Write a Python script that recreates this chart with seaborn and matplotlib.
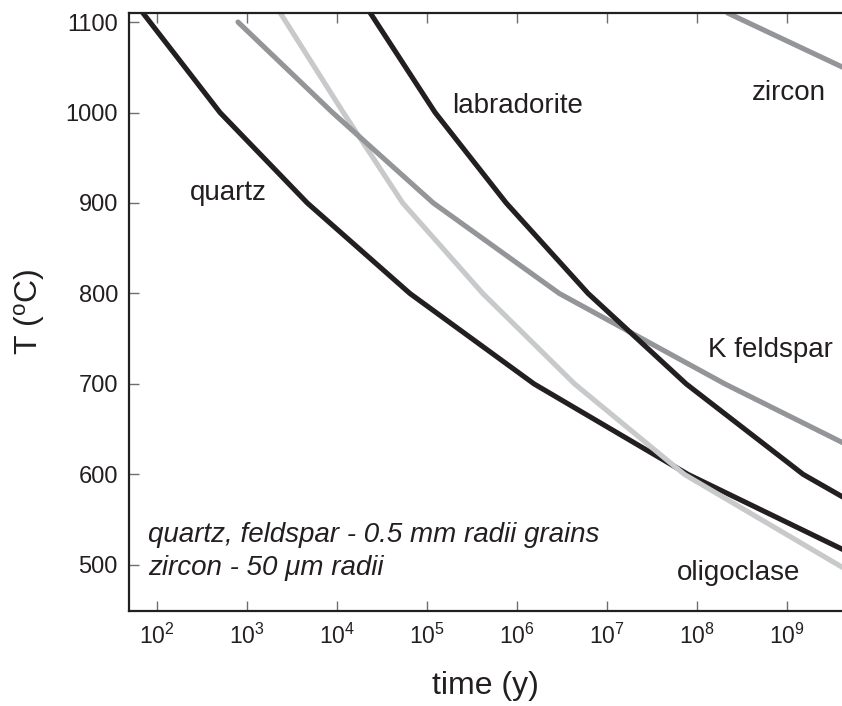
import numpy as np
import pandas as pd
import matplotlib
matplotlib.use("Agg")
import matplotlib.pyplot as plt
import matplotlib.ticker as mticker
import seaborn as sns

# ---- data (log10 time in years, temperature in C) ----
quartz_logt = [1.844, 2.70, 3.67, 4.81, 6.19, 7.90, 9.62]
quartz_T = [1110, 1000, 900, 800, 700, 600, 517]

oligoclase_logt = [3.37, 4.07, 4.73, 5.62, 6.64, 7.86, 9.62]
oligoclase_T = [1110, 1000, 900, 800, 700, 600, 497]

kfeldspar_logt = [2.90, 3.95, 5.07, 6.47, 8.31, 9.62]
kfeldspar_T = [1100, 1000, 900, 800, 700, 635]

labradorite_logt = [4.37, 5.09, 5.88, 6.79, 7.88, 9.18, 9.62]
labradorite_T = [1110, 1000, 900, 800, 700, 600, 575]

zircon_logt = [8.34, 9.62]
zircon_T = [1110, 1050]

minerals = ["quartz", "oligoclase", "K feldspar", "labradorite", "zircon"]
colors = {"quartz": "#231f20", "oligoclase": "#c8c9cb", "K feldspar": "#939598",
          "labradorite": "#231f20", "zircon": "#939598"}

xtick_exps = [2, 3, 4, 5, 6, 7, 8, 9]
yticks = [500, 600, 700, 800, 900, 1000, 1100]

series = {
    "quartz": (quartz_logt, quartz_T),
    "oligoclase": (oligoclase_logt, oligoclase_T),
    "K feldspar": (kfeldspar_logt, kfeldspar_T),
    "labradorite": (labradorite_logt, labradorite_T),
    "zircon": (zircon_logt, zircon_T),
}
rows = []
for m in minerals:
    lt, T = series[m]
    for a, b in zip(lt, T):
        rows.append({"mineral": m, "time": 10.0 ** a, "T": b})
df = pd.DataFrame(rows)

sns.set_style("white")
plt.rcParams["font.family"] = ["Liberation Sans", "DejaVu Sans"]
plt.rcParams["mathtext.fontset"] = "custom"
plt.rcParams["mathtext.rm"] = "Liberation Sans"
plt.rcParams["mathtext.it"] = "Liberation Sans:italic"
plt.rcParams["mathtext.bf"] = "Liberation Sans:bold"

W, H = 842, 706
fig = plt.figure(figsize=(W / 100, H / 100), dpi=100)
ax = fig.add_axes([129 / W, 1 - 611 / H, (W - 129) / W, (611 - 13) / H])

for m in minerals:
    sub = df[df["mineral"] == m]
    sns.lineplot(data=sub, x="time", y="T", ax=ax, color=colors[m], lw=3.7,
                 sort=False, estimator=None, legend=False,
                 solid_capstyle="round", solid_joinstyle="round")

ax.set_xscale("log")
ax.set_xlim(10 ** 1.689, 10 ** 9.611)
ax.set_ylim(449, 1110)
ax.xaxis.set_major_locator(mticker.FixedLocator([10.0 ** e for e in xtick_exps]))
ax.xaxis.set_minor_locator(mticker.NullLocator())
ax.xaxis.set_major_formatter(mticker.FuncFormatter(lambda v, p: r"$\mathdefault{10^{%d}}$" % round(np.log10(v))))
ax.set_yticks(yticks)

for s in ["left", "bottom", "top"]:
    ax.spines[s].set_linewidth(1.6)
    ax.spines[s].set_color("#231f20")
ax.spines["right"].set_visible(False)

ax.tick_params(axis="x", which="major", direction="in", length=7, width=1.0,
               color="#6d6e71", top=True, bottom=True, labelsize=16.5, pad=9,
               labelcolor="#231f20")
ax.tick_params(axis="y", which="major", direction="in", length=7, width=1.0,
               color="#6d6e71", left=True, right=False, labelsize=17, pad=8,
               labelcolor="#231f20")

ax.set_xlabel("time (y)", fontsize=23, color="#231f20")
ax.set_ylabel(r"T ($^{\mathrm{o}}$C)", fontsize=23, color="#231f20")
ax.xaxis.set_label_coords(0.5, -0.100)
ax.yaxis.set_label_coords(-0.115, 0.5)

def px(xp, yp):
    return 10 ** (2 + (xp - 157) / 90.0), 1100 - (yp - 22) / 0.905

lab_kw = dict(fontsize=20, color="#231f20", ha="left", va="baseline")
for text, (xp, yp) in [("quartz", (190, 200)), ("labradorite", (452, 113)),
                       ("zircon", (752, 100)), ("K feldspar", (708, 357)),
                       ("oligoclase", (677, 580))]:
    x, y = px(xp, yp)
    ax.text(x, y, text, **lab_kw)

x, y = px(148, 542)
ax.text(x, y, "quartz, feldspar - 0.5 mm radii grains", style="italic", **lab_kw)
x, y = px(148, 575)
ax.text(x, y, "zircon - 50 μm radii", style="italic", **lab_kw)

fig.savefig("out.png", dpi=100)
